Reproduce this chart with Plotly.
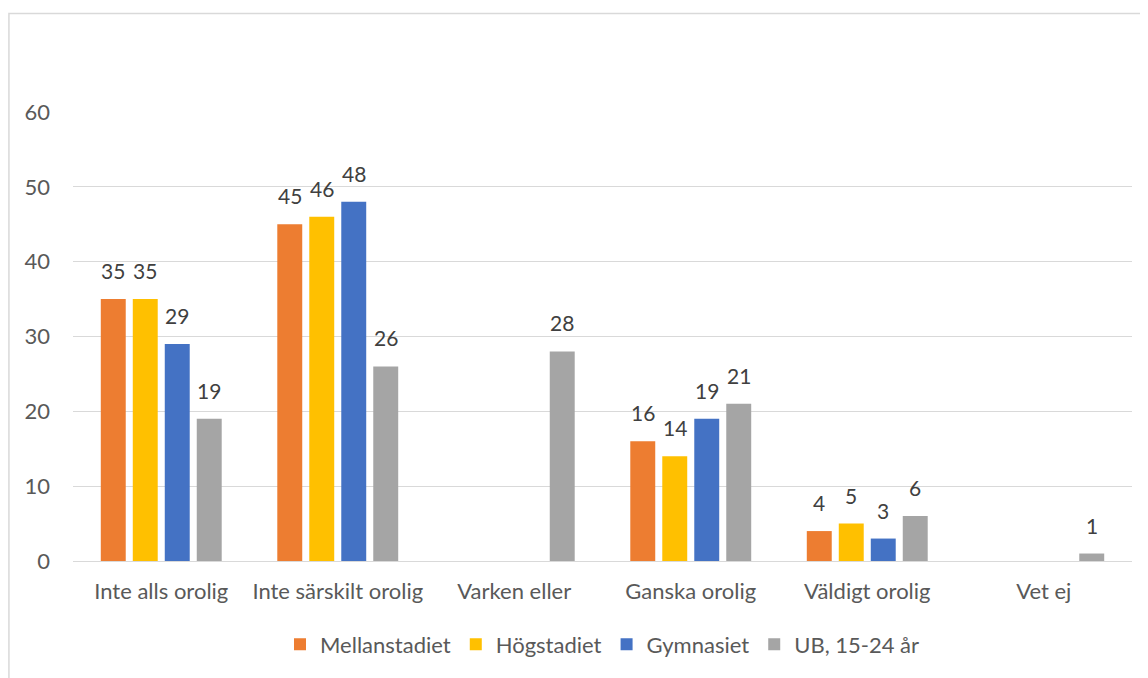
import plotly.graph_objects as go

categories = ["Inte alls orolig", "Inte särskilt orolig", "Varken eller",
              "Ganska orolig", "Väldigt orolig", "Vet ej"]
mellanstadiet = [35, 45, None, 16, 4, None]
hogstadiet = [35, 46, None, 14, 5, None]
gymnasiet = [29, 48, None, 19, 3, None]
ub_15_24 = [19, 26, 28, 21, 6, 1]

series = [
    ("Mellanstadiet", mellanstadiet, "#ED7D31"),
    ("Högstadiet", hogstadiet, "#FFC000"),
    ("Gymnasiet", gymnasiet, "#4472C4"),
    ("UB, 15-24 år", ub_15_24, "#A5A5A5"),
]

FONT = "Lato, Noto Sans, sans-serif"
BARGAP = 0.275
PLOT_W = 1059  # px width of the plot area
slot = PLOT_W / len(categories) * (1 - BARGAP) / len(series)

fig = go.Figure()
annotations = []
for i, (name, vals, color) in enumerate(series):
    fig.add_trace(go.Bar(
        x=categories, y=vals, name=name,
        marker=dict(color=color, line=dict(width=0)),
    ))
    # data labels sit a bit higher above the bars than plotly's own outside text
    for cat, v in zip(categories, vals):
        if v is None:
            continue
        annotations.append(dict(
            x=cat, y=v, xref="x", yref="y", text=str(v), showarrow=False,
            xshift=(i - (len(series) - 1) / 2) * slot, yshift=14,
            yanchor="bottom", font=dict(size=21, color="#404040", family=FONT),
        ))

fig.update_layout(
    width=1140, height=670,
    paper_bgcolor="white", plot_bgcolor="white",
    margin=dict(l=65, r=16, t=104, b=115),
    barmode="group", bargap=BARGAP, bargroupgap=0.22,
    font=dict(family=FONT, size=22, color="#595959"),
    showlegend=True,
    legend=dict(orientation="h", x=0.5, xanchor="center", y=-0.186, yanchor="middle",
                font=dict(size=22, color="#595959"), itemwidth=30,
                traceorder="normal"),
    xaxis=dict(showgrid=False, showline=False, ticks="", tickfont=dict(size=22),
               ticklabelstandoff=15),
    yaxis=dict(range=[0, 60], dtick=10, showgrid=True, gridcolor="#D9D9D9", gridwidth=1,
               zeroline=True, zerolinecolor="#D9D9D9", zerolinewidth=1,
               showline=False, ticks="", ticklabelstandoff=22,
               tickfont=dict(size=22)),
    annotations=annotations,
    shapes=[dict(type="rect", xref="paper", yref="paper",
                 x0=-0.0605, x1=1.2, y0=-0.6, y1=1.2195,
                 line=dict(color="#D9D9D9", width=1.5), layer="below")],
)

fig.write_html("out.html")
